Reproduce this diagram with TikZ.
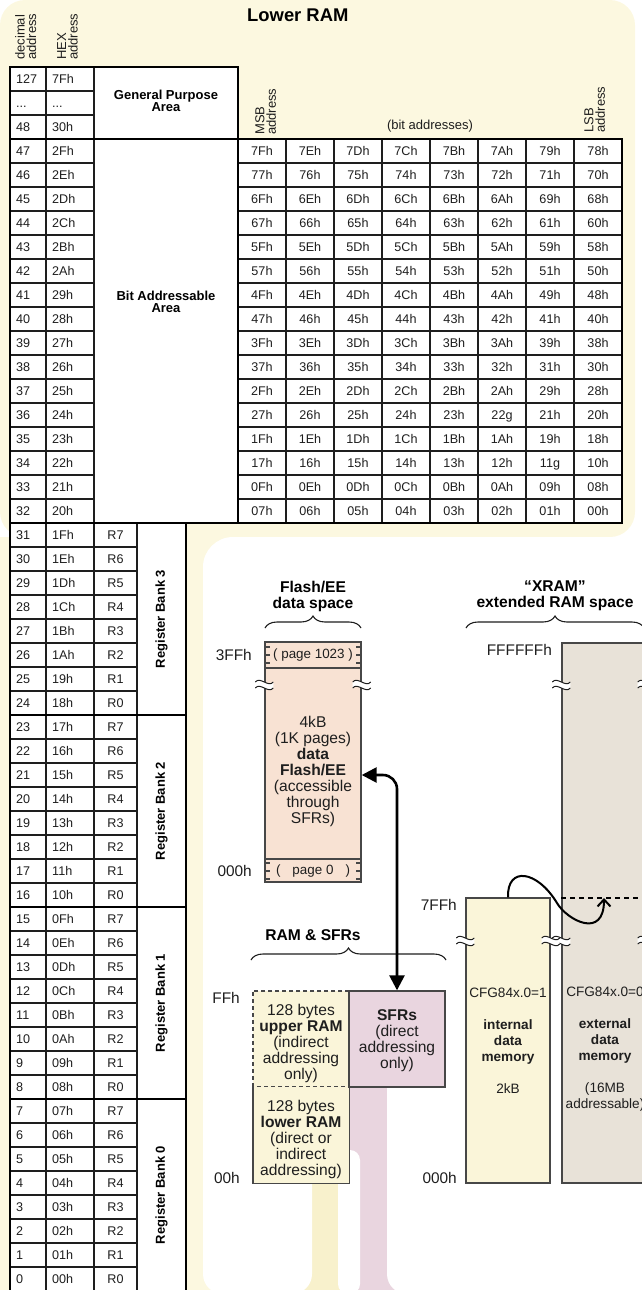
\documentclass[tikz,border=0pt]{standalone}
\usepackage{fontspec}
\setmainfont{Liberation Sans}
\usepackage{tikz}
\usetikzlibrary{arrows.meta, decorations.pathreplacing}
\definecolor{ramYellow}{HTML}{FCF8E0}
\definecolor{lowYellow}{HTML}{FAF5D9}
\definecolor{stripYellow}{HTML}{F8F1CC}
\definecolor{flashPeach}{HTML}{F8E2D3}
\definecolor{sfrPink}{HTML}{E9D5DF}
\definecolor{xramBeige}{HTML}{E8E2D8}
\definecolor{inkGray}{HTML}{1E1E1E}
\definecolor{edgeGray}{HTML}{474747}

\begin{document}
\begin{tikzpicture}[
    x=1pt, y=-1pt,
    cell/.style={anchor=west, inner sep=0pt, text height=9pt, text depth=0pt,
      font=\fontsize{12.6}{14}\selectfont, text=inkGray},
    midcell/.style={cell, anchor=center},
    thinrule/.style={draw=inkGray, line width=1.6pt},
    thickrule/.style={draw=black, line width=2.7pt},
    lbl/.style={inner sep=0pt, align=center, font=\fontsize{13}{12.5}\selectfont\bfseries},
    bank/.style={lbl, rotate=90},
    hdr/.style={inner sep=0pt, align=left, rotate=90, anchor=north west,
      font=\fontsize{13}{11.5}\selectfont, text=inkGray},
    heading/.style={inner sep=0pt, align=center, font=\fontsize{15.6}{16}\selectfont\bfseries},
    addr/.style={inner sep=0pt, anchor=east, font=\fontsize{15.4}{16}\selectfont, text=inkGray},
    memtext/.style={inner sep=0pt, align=center, font=\fontsize{15.6}{16}\selectfont, text=inkGray},
    slimtext/.style={memtext, font=\fontsize{13.6}{16}\selectfont},
    membox/.style={draw=edgeGray, line width=1.4pt, inner sep=0pt},
    pagelbl/.style={inner sep=0pt, font=\fontsize{13.4}{14}\selectfont, text=inkGray},
    curly/.style={decorate, decoration={brace, amplitude=12pt}, line width=1.1pt, draw=inkGray},
    dashedge/.style={draw=edgeGray, line width=1.4pt, dash pattern=on 4pt off 3pt},
    brk/.pic={
      \fill[white] (-9,-3) .. controls (-4,-9) and (4,3) .. (9,-3)
        -- (9,3) .. controls (4,9) and (-4,-3) .. (-9,3) -- cycle;
      \draw[line width=1pt, inkGray] (-9,-3) .. controls (-4,-9) and (4,3) .. (9,-3)
        (-9,3) .. controls (-4,-3) and (4,9) .. (9,3);
    },
  ]
  \useasboundingbox (0,0) rectangle (642,1290);
  \clip (0,0) rectangle (642,1290);

  % background panels
  \fill[ramYellow, rounded corners=25pt] (0,0) rectangle (635,537);
  \fill[ramYellow] (0,537) rectangle (760,1290);
  \fill[white] (203,1087) [rounded corners=30pt] -- (203,537) -- (760,537) [sharp corners] -- (760,1087) -- cycle;
  \fill[white] (203,1087) rectangle (760,1183);
  \fill[stripYellow] (300,1183) rectangle (345,1290);
  \fill[sfrPink] (345,1087) rectangle (400,1290);
  \fill[white, rounded corners=20pt] (203,1150) rectangle (312,1294);
  \fill[white, rounded corners=10pt] (338,1150) rectangle (360,1294);
  \fill[white, rounded corners=20pt] (387,1050) rectangle (760,1294);

  % lower RAM tables
  \fill[white] (10,67) rectangle (238,523);
  \fill[white] (238,139) rectangle (622,523);
  \fill[white] (10,523) rectangle (186,1291);

  \foreach \row in {1,...,18}
    \draw[thinrule] (10,67+24*\row) -- (94,67+24*\row);
  \foreach \row in {19,...,50}
    \draw[thinrule] (10,67+24*\row) -- (137,67+24*\row);
  \draw[thinrule] (46,67) -- (46,1291);
  \draw[thinrule] (94,67) -- (94,1291);
  \draw[thinrule] (137,523) -- (137,1291);
  \foreach \col in {0,...,6}
    \draw[thinrule] (286+48*\col,139) -- (286+48*\col,523);
  \foreach \brow in {0,...,14}
    \draw[thinrule] (238,163+24*\brow) -- (622,163+24*\brow);

  \draw[thickrule] (10,67) rectangle (238,139);
  \draw[thickrule] (10,139) rectangle (238,523);
  \draw[thickrule] (238,139) rectangle (622,523);
  \foreach \bk in {0,...,3}
    \draw[thickrule] (10,523+192*\bk) rectangle (186,715+192*\bk);

  % headers
  \node[inner sep=0pt, anchor=west, font=\fontsize{18.4}{20}\selectfont\bfseries] (ramttl) at (247,15) {Lower RAM};
  \node[hdr] (dechdr) at (15,60) {decimal\\address};
  \node[hdr] (hexhdr) at (57,60) {HEX\\address};
  \node[hdr] (msbhdr) at (255,135) {MSB\\address};
  \node[hdr] (lsbhdr) at (584,133) {LSB\\address};
  \node[inner sep=0pt, font=\fontsize{13}{14}\selectfont, text=inkGray] (bitshdr) at (430,126) {(bit addresses)};
  \node[lbl] (gparea) at (166,101) {General Purpose\\Area};
  \node[lbl] (bitarea) at (166,302) {Bit Addressable\\Area};

  % byte addresses
  \node[cell] (dec127) at (16,79) {127};
  \node[cell] (hex127) at (52,79) {7Fh};
  \node[cell] (decdots) at (16,103) {...};
  \node[cell] (hexdots) at (52,103) {...};
  \node[cell] (dec48) at (16,127) {48};
  \node[cell] (hex48) at (52,127) {30h};
  \foreach \row in {3,...,50}{
    \pgfmathtruncatemacro{\dval}{50-\row}
    \pgfmathsetmacro{\hval}{Hex(\dval)}
    \node[cell] (dec\dval) at (16,79+24*\row) {\dval};
    \node[cell] (hex\dval) at (52,79+24*\row) {\ifnum\dval<16 0\fi\hval h};
  }
  \foreach \row in {19,...,50}{
    \pgfmathtruncatemacro{\dval}{50-\row}
    \pgfmathtruncatemacro{\rnum}{mod(\dval,8)}
    \node[midcell] (reg\dval) at (115.5,79+24*\row) {R\rnum};
  }
  \foreach \bk/\yc in {3/619, 2/811, 1/1003, 0/1195}
    \node[bank] (bank\bk) at (161.5,\yc) {Register Bank \bk};

  % bit addresses
  \foreach \brow in {0,...,15}{
    \foreach \col in {0,...,7}{
      \pgfmathtruncatemacro{\bitv}{(15-\brow)*8+7-\col}
      \pgfmathsetmacro{\bitx}{Hex(\bitv)}
      \node[midcell] (bit\bitv) at (262+48*\col,151+24*\brow)
        {\ifnum\bitv<16 0\fi\bitx\ifnum\bitv=34 g\else\ifnum\bitv=17 g\else h\fi\fi};
    }
  }

  % memory spaces
  \draw[curly] (265,628) -- (361,628);
  \draw[curly] (466,628) -- (644,628);
  \draw[curly] (251,960) -- (446,960);
  \node[heading] (flashttl) at (313,596) {Flash/EE\\data space};
  \node[heading] (xramttl) at (555,596) {“XRAM”\\extended RAM space};
  \node[heading] (sfrttl) at (313,935) {RAM \& SFRs};

  \node[membox, fill=flashPeach, minimum width=96pt, minimum height=240pt] (flash) at (313,762) {};
  \draw[edgeGray, line width=1.4pt] (flash.west |- 0,668) -- (flash.east |- 0,668);
  \draw[edgeGray, line width=1.4pt] (flash.west |- 0,859) -- (flash.east |- 0,859);
  \foreach \yy in {647,655,663,863,871,879}{
    \draw[edgeGray, line width=1.1pt] (flash.west |- 0,\yy) -- ++(6,0);
    \draw[edgeGray, line width=1.1pt] (flash.east |- 0,\yy) -- ++(-6,0);
  }

  \node[membox, fill=xramBeige, minimum width=84pt, minimum height=540pt] (ext) at (604,913) {};
  \draw[black, line width=1.8pt, dash pattern=on 5pt off 4pt] (ext.west |- 0,898) -- (ext.east |- 0,898);
  \node[membox, fill=lowYellow, minimum width=84pt, minimum height=285pt] (intl) at (508,1040.5) {};

  \node[inner sep=0pt, fill=lowYellow, minimum width=96pt, minimum height=95pt] (uram) at (301,1038.5) {};
  \node[inner sep=0pt, fill=lowYellow, minimum width=96pt, minimum height=97pt] (lram) at (301,1134.5) {};
  \draw[dashedge] (uram.north east) -- (uram.north west) -- (uram.south west) -- (uram.south east);
  \draw[edgeGray, line width=1.4pt] (lram.north west) -- (lram.south west) -- (lram.south east) -- (lram.north east);
  \node[membox, fill=sfrPink, minimum width=96pt, minimum height=96pt] (sfr) at (397,1039) {};

  \pic at (flash.west |- 0,685) {brk};
  \pic at (flash.east |- 0,685) {brk};
  \pic at (ext.west |- 0,685) {brk};
  \pic at (ext.east |- 0,685) {brk};
  \pic at (ext.west |- 0,941) {brk};
  \pic at (ext.east |- 0,941) {brk};
  \pic at (intl.west |- 0,941) {brk};
  \pic at (intl.east |- 0,941) {brk};

  \node[pagelbl] (pg1023) at (313,655) {( page 1023 )};
  \node[pagelbl] (pg0) at (313,871) {\makebox[74pt]{(\hfill page 0\hfill)}};

  \node[addr] (a3ff) at (252,655) {3FFh};
  \node[addr] (a000f) at (252,871) {000h};
  \node[addr] (affffff) at (552,650) {FFFFFFh};
  \node[addr] (a7ff) at (457,905) {7FFh};
  \node[addr] (a000x) at (457,1178) {000h};
  \node[addr] (aff) at (240,998) {FFh};
  \node[addr] (a00) at (240,1178) {00h};

  \node[memtext] (flashtxt) at (313,771) {4kB\\(1K pages)\\\textbf{data}\\\textbf{Flash/EE}\\(accessible\\through\\SFRs)};
  \node[memtext] (uramtxt) at (301,1043) {128 bytes\\\textbf{upper RAM}\\(indirect\\addressing\\only)};
  \node[memtext] (sfrtxt) at (397,1041) {\textbf{SFRs}\\(direct\\addressing\\only)};
  \node[memtext] (lramtxt) at (301,1139) {128 bytes\\\textbf{lower RAM}\\(direct or\\indirect\\addressing)};
  \node[slimtext] (intltxt) at (508,1041) {CFG84x.0=1\\[16pt]\textbf{internal}\\\textbf{data}\\\textbf{memory}\\[16pt]2kB};
  \node[slimtext] (exttxt) at (605,1049) {CFG84x.0=0\\[16pt]\textbf{external}\\\textbf{data}\\\textbf{memory}\\[16pt](16MB\\addressable)};

  % connectors
  \coordinate (fport) at (flash.east |- 0,775);
  \coordinate (xport) at (ext.center |- 0,898);
  \draw[black, line width=2.6pt, rounded corners=14pt,
    {Triangle[length=15pt,width=15pt]}-{Triangle[length=15pt,width=15pt]}]
    (fport) -- (sfr.north |- fport) -- (sfr.north);
  \draw[black, line width=2pt, -{Straight Barb[length=7pt,width=13pt]}]
    (intl.north) .. controls (507,866) and (537,870) .. (557,903)
    .. controls (567,920) and (604,940) .. (xport);
\end{tikzpicture}
\end{document}
